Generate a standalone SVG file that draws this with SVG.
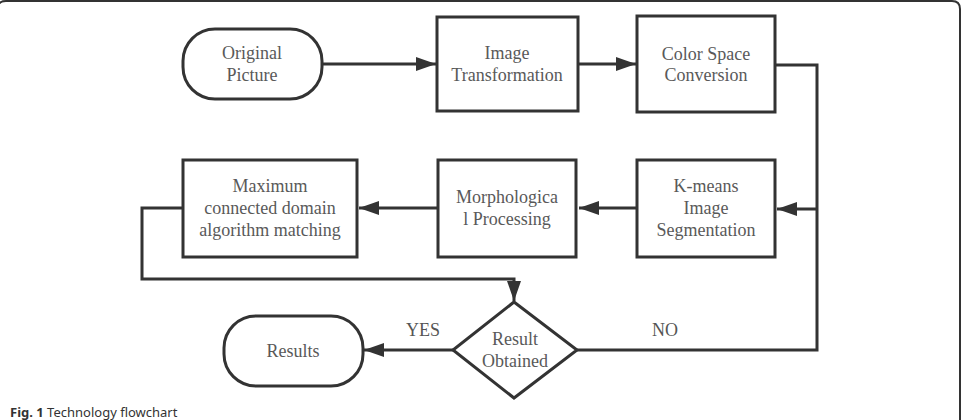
<svg xmlns="http://www.w3.org/2000/svg" width="963" height="420" viewBox="0 0 963 420">
<style>
.box{fill:#fff;stroke:#333;stroke-width:3}
.ln{fill:none;stroke:#333;stroke-width:3}
.t{font-family:"Liberation Serif","Times New Roman",serif;font-size:18px;fill:#595959;text-anchor:middle}
.lbl{font-family:"Liberation Serif","Times New Roman",serif;font-size:18px;fill:#555}
.cap{font-family:"Noto Sans","Open Sans",sans-serif;font-size:13px;fill:#333}
</style>
<defs>
<marker id="ah" markerWidth="20" markerHeight="14" refX="20" refY="7" orient="auto" markerUnits="userSpaceOnUse">
<path d="M0,0 L20,7 L0,14 Z" fill="#333"/>
</marker>
</defs>
<rect width="963" height="420" fill="#fff"/>
<path d="M-2,420 L-2,8 Q-2,1 6,1 L952,1 Q960,1 960,9 L960,420" fill="none" stroke="#333" stroke-width="2"/>
<text class="cap" x="10" y="417"><tspan font-weight="bold">Fig. 1</tspan> Technology flowchart</text>

<g id="connectors">
<line class="ln" x1="322" y1="64" x2="436" y2="64" marker-end="url(#ah)"/>
<line class="ln" x1="578" y1="64" x2="636" y2="64" marker-end="url(#ah)"/>
<polyline class="ln" points="775,65 817,65 817,350 576,350"/>
<line class="ln" x1="817" y1="209" x2="777" y2="209" marker-end="url(#ah)"/>
<line class="ln" x1="637" y1="208" x2="579" y2="208" marker-end="url(#ah)"/>
<line class="ln" x1="437" y1="208" x2="359" y2="208" marker-end="url(#ah)"/>
<polyline class="ln" points="183,208 142,208 142,279 514,279 514,301" marker-end="url(#ah)"/>
<line class="ln" x1="453" y1="350" x2="364" y2="350" marker-end="url(#ah)"/>
<text class="lbl" x="406" y="336">YES</text>
<text class="lbl" x="652" y="336">NO</text>
</g>

<g id="original">
<rect class="box" x="183" y="29" width="139" height="70" rx="32" ry="32"/>
<text class="t" x="252" y="59">Original</text>
<text class="t" x="252" y="81">Picture</text>
</g>
<g id="transform">
<rect class="box" x="437" y="17" width="141" height="94"/>
<text class="t" x="507" y="59">Image</text>
<text class="t" x="507" y="81">Transformation</text>
</g>
<g id="colorspace">
<rect class="box" x="637" y="16" width="138" height="96"/>
<text class="t" x="706" y="60">Color Space</text>
<text class="t" x="706" y="81">Conversion</text>
</g>
<g id="kmeans">
<rect class="box" x="637" y="160" width="138" height="97"/>
<text class="t" x="706" y="192">K-means</text>
<text class="t" x="706" y="214">Image</text>
<text class="t" x="706" y="236">Segmentation</text>
</g>
<g id="morph">
<rect class="box" x="438" y="160" width="138" height="97"/>
<text class="t" x="507" y="203">Morphologica</text>
<text class="t" x="507" y="225">l Processing</text>
</g>
<g id="maxdomain">
<rect class="box" x="183" y="160" width="174" height="97"/>
<text class="t" x="270" y="192">Maximum</text>
<text class="t" x="270" y="214">connected domain</text>
<text class="t" x="270" y="236">algorithm matching</text>
</g>
<g id="decision">
<polygon class="box" points="514,302 577,350 514,398 453,350"/>
<text class="t" x="515" y="345">Result</text>
<text class="t" x="515" y="367">Obtained</text>
</g>
<g id="results">
<rect class="box" x="224" y="316" width="139" height="70" rx="32" ry="32"/>
<text class="t" x="293" y="357">Results</text>
</g>
</svg>
